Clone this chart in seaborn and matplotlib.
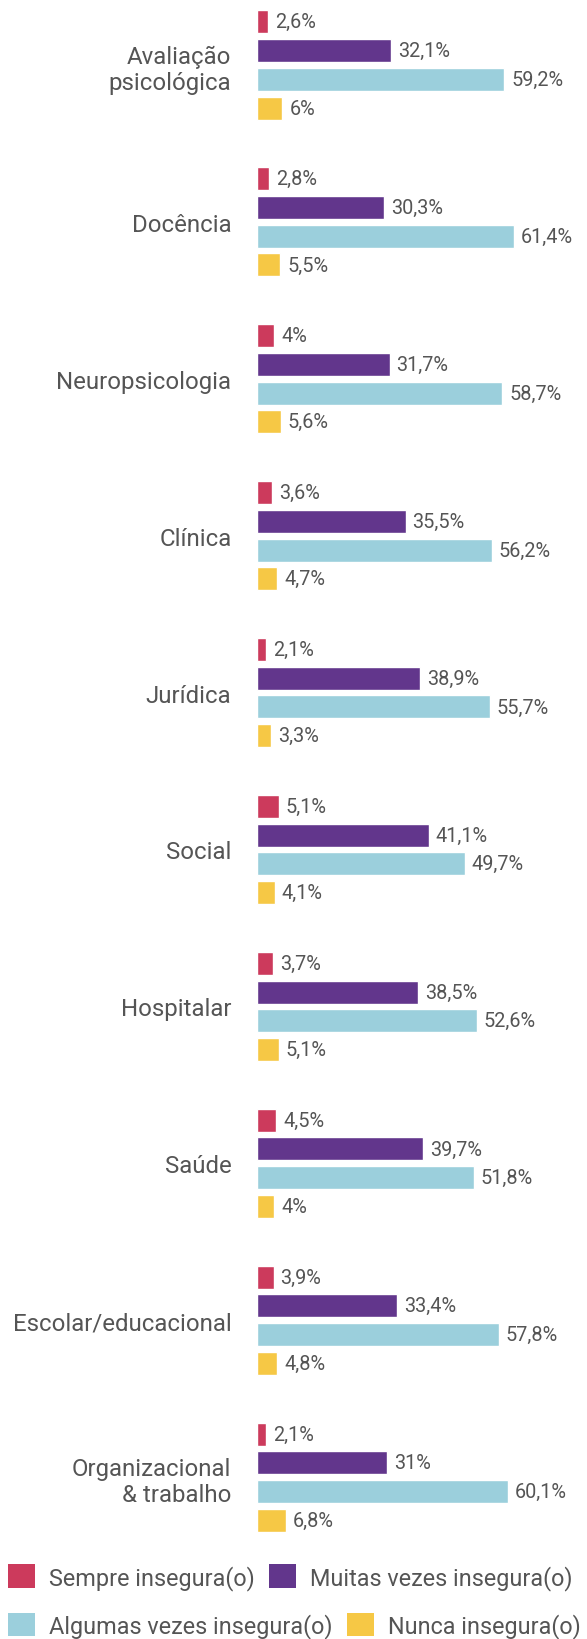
import matplotlib
matplotlib.use("Agg")
import matplotlib.pyplot as plt
import seaborn as sns
import pandas as pd
from matplotlib.patches import Patch

categories = ["Avaliação\npsicológica", "Docência", "Neuropsicologia", "Clínica",
              "Jurídica", "Social", "Hospitalar", "Saúde",
              "Escolar/educacional", "Organizacional\n& trabalho"]
series = ["Sempre insegura(o)", "Muitas vezes insegura(o)",
          "Algumas vezes insegura(o)", "Nunca insegura(o)"]
sempre = [2.6, 2.8, 4, 3.6, 2.1, 5.1, 3.7, 4.5, 3.9, 2.1]
muitas = [32.1, 30.3, 31.7, 35.5, 38.9, 41.1, 38.5, 39.7, 33.4, 31]
algumas = [59.2, 61.4, 58.7, 56.2, 55.7, 49.7, 52.6, 51.8, 57.8, 60.1]
nunca = [6, 5.5, 5.6, 4.7, 3.3, 4.1, 5.1, 4, 4.8, 6.8]
colors = ["#CC3A5C", "#62368C", "#9BCFDC", "#F6C845"]

sns.set_theme(style="white")
plt.rcParams["font.family"] = ["Roboto", "DejaVu Sans"]
text_color = "#555555"

rows = []
for name, vals in zip(series, [sempre, muitas, algumas, nunca]):
    for cat, v in zip(categories, vals):
        rows.append({"area": cat, "resposta": name, "pct": v})
df = pd.DataFrame(rows)

fig = plt.figure(figsize=(5.87, 16.4), dpi=100)
ax = fig.add_axes([0.4385, 0.0652, 0.4975, 0.9281])

sns.barplot(data=df, y="area", x="pct", hue="resposta", order=categories,
            hue_order=series, palette=colors, orient="h", width=0.733,
            gap=0.2, saturation=1, legend=False, ax=ax)

ax.set_xlim(0, 70)
ax.set_ylim(9.35, -0.35)
ax.set_xlabel("")
ax.set_ylabel("")
ax.set_xticks(range(0, 70, 10))
ax.set_xticklabels([])
ax.tick_params(axis="x", length=2, width=0.8, color="#666666", direction="out", pad=0)
ax.tick_params(axis="y", length=0, pad=18.7, labelsize=17.3, labelcolor=text_color)
for s in ax.spines.values():
    s.set_visible(False)

for cont in ax.containers:
    labels = [f"{v:g}".replace(".", ",") + "%" for v in cont.datavalues]
    ax.bar_label(cont, labels=labels, padding=5, fontsize=14.3, color=text_color)

handles = [Patch(facecolor=c, edgecolor="none") for c in colors]
leg_kw = dict(frameon=False, fontsize=16.8, handlelength=1.15, handleheight=1.15,
              handletextpad=0.6, columnspacing=0.62, borderaxespad=0,
              borderpad=0, labelcolor=text_color, ncol=2)
fig.legend(handles[:2], series[:2], loc="center left",
           bbox_to_anchor=(0.0136, 0.0378), **leg_kw)
fig.legend(handles[2:], series[2:], loc="center left",
           bbox_to_anchor=(0.0136, 0.0082), **leg_kw)

fig.savefig("out.png", dpi=100)
